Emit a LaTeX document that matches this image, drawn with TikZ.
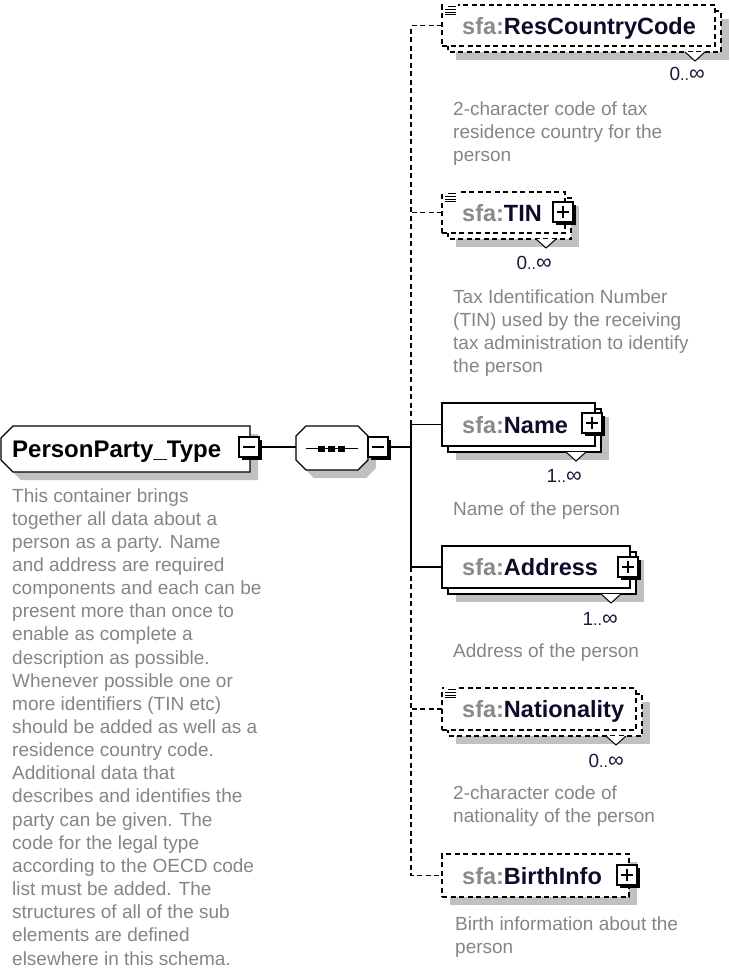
\documentclass[tikz,border=0pt]{standalone}
\usepackage{fontspec}
\setmainfont{Liberation Sans}
\definecolor{shadowc}{HTML}{C0C0C0}
\definecolor{descc}{HTML}{858585}
\definecolor{pfxc}{HTML}{8A8A8A}
\definecolor{namec}{HTML}{0C0C2A}
\definecolor{occc}{HTML}{1A1A3A}
\newcommand{\pfx}{\textcolor{pfxc}{sfa:}}
\newcommand{\dblock}[1]{\vtop{#1}}
\newcommand{\dl}[1]{\hbox{#1}}
\newcommand{\occt}[1]{#1{\fontsize{16}{20}\selectfont ..}{\fontsize{22}{23}\selectfont ∞}}
\newcommand{\pmbox}[4]{%
  \fill[black] (#2+3,#3+3) rectangle (#2+23,#3+23);
  \node[pmb, anchor=north west] (#1) at (#2,#3) {};
  \draw[line width=1.3pt] ([xshift=4pt]#1.west) -- ([xshift=-4pt]#1.east);
  \ifnum#4=1 \draw[line width=1.3pt] ([yshift=-4pt]#1.north) -- ([yshift=4pt]#1.south);\fi
}
\newcommand{\sicon}[2]{%
  \fill[white] (#1,#2-1) rectangle (#1+14,#2+12);
  \draw[line width=0.9pt] (#1+4,#2+1.5) -- (#1+12,#2+1.5);
  \foreach \k in {1,2,3} \draw[line width=0.9pt] (#1+1,#2+1.5+2.8*\k) -- (#1+12,#2+1.5+2.8*\k);
}
\newcommand{\vmark}[2]{%
  \filldraw[fill=white, draw=black, line width=1pt] (#1-10,#2) -- (#1,#2+9) -- (#1+10,#2);
}
\newcommand{\elemS}[6]{%
  \fill[shadowc] ({#2-#4/2+14},{#3-#5/2+14}) rectangle ({#2+#4/2+14},{#3+#5/2+14});
  \draw[#6, fill=white] ({#2-#4/2+6},{#3-#5/2+6}) rectangle ({#2+#4/2+6},{#3+#5/2+6});
  \node[boxn, #6, minimum width=#4, minimum height=#5] (#1) at (#2,#3) {};
}
\newcommand{\elemN}[6]{%
  \fill[shadowc] ({#2-#4/2+8},{#3-#5/2+8}) rectangle ({#2+#4/2+8},{#3+#5/2+8});
  \node[boxn, #6, minimum width=#4, minimum height=#5] (#1) at (#2,#3) {};
}
\begin{document}
\begin{tikzpicture}[x=1pt,y=-1pt,
  req/.style={draw=black, line width=1.3pt},
  opt/.style={draw=black, line width=1.3pt, dash pattern=on 5pt off 3.5pt},
  boxn/.style={rectangle, inner sep=0pt, outer sep=0pt, fill=white},
  ename/.style={inner sep=0pt, anchor=base west, font=\fontsize{23.5}{28}\selectfont\bfseries, text=namec},
  desc/.style={inner sep=0pt, anchor=base west, font=\fontsize{19}{23.15}\selectfont, text=descc},
  occ/.style={inner sep=0pt, anchor=base east, font=\fontsize{19}{23}\selectfont, text=occc},
  pmb/.style={draw=black, fill=white, line width=1.3pt, rectangle, inner sep=0pt, outer sep=0pt, minimum width=20pt, minimum height=20pt}
]
\useasboundingbox (0,0) rectangle (730,972);

% PersonParty_Type
\fill[shadowc] (21,434) -- (258,434) -- (258,480) -- (21,480) -- (9,468) -- (9,446) -- cycle;
\draw[fill=white, line width=1.3pt] (13,426) -- (250,426) -- (250,472) -- (13,472) -- (1,460) -- (1,438) -- cycle;
\node[boxn, fill=none, minimum width=249, minimum height=46] (ppt) at (125.5,449) {};
\node[ename, text=black, font=\fontsize{24}{28}\selectfont\bfseries] (pptT) at (12,457) {PersonParty\_Type};
\pmbox{pptm}{239}{437}{0}

% sequence
\fill[shadowc] (314,434) -- (366,434) -- (376,444) -- (376,468) -- (366,478) -- (314,478) -- (304,468) -- (304,444) -- cycle;
\draw[fill=white, line width=1.3pt] (306,426) -- (358,426) -- (368,436) -- (368,460) -- (358,470) -- (306,470) -- (296,460) -- (296,436) -- cycle;
\node[boxn, fill=none, minimum width=72, minimum height=44] (seq) at (332,448) {};
\draw[line width=1.3pt] (306,448.5) -- (358,448.5);
\foreach \cx in {321.5,331.5,341.5} \fill (\cx-3.5,446) rectangle (\cx+3.5,452);
\pmbox{seqm}{368}{437}{0}

\coordinate (bus) at (411,447);
\draw[req] (pptm.east) -- (pptm.east -| seq.west);
\draw[req] (seqm.east) -- (bus);

% ResCountryCode
\elemS{res}{578.5}{25.5}{273}{41}{opt}
\sicon{444}{5}
\vmark{695}{52}
\node[ename] (resT) at (462,34) {\pfx ResCountryCode};
\node[occ] (resO) at (705,80) {\occt{0}};
\node[desc] (resD) at (453,115.5) {\dblock{\dl{2-character code of tax}\dl{residence country for the}\dl{person}}};

% TIN
\elemS{tin}{503.5}{212.5}{123}{41}{opt}
\sicon{444}{192}
\vmark{546}{239}
\pmbox{tinp}{553}{202}{1}
\node[ename] (tinT) at (462,221) {\pfx TIN};
\node[occ] (tinO) at (552,269) {\occt{0}};
\node[desc] (tinD) at (453,303) {\dblock{\dl{Tax Identification Number}\dl{(TIN) used by the receiving}\dl{tax administration to identify}\dl{the person}}};

% Name
\elemS{name}{518.5}{424.5}{153}{43}{req}
\vmark{576}{452}
\pmbox{namep}{582}{413}{1}
\node[ename] (nameT) at (462,433) {\pfx Name};
\node[occ] (nameO) at (582,482) {\occt{1}};
\node[desc] (nameD) at (453,515) {Name of the person};

% Address
\elemS{addr}{536}{567}{188}{42}{req}
\vmark{611}{594}
\pmbox{addrp}{618}{557}{1}
\node[ename] (addrT) at (462,575) {\pfx Address};
\node[occ] (addrO) at (618,625) {\occt{1}};
\node[desc] (addrD) at (453,657) {Address of the person};

% Nationality
\elemS{nat}{539}{709}{194}{42}{opt}
\sicon{444}{688}
\vmark{616}{736}
\node[ename] (natT) at (462,717.5) {\pfx Nationality};
\node[occ] (natO) at (624,767) {\occt{0}};
\node[desc] (natD) at (453,799) {\dblock{\dl{2-character code of}\dl{nationality of the person}}};

% BirthInfo
\elemN{birth}{535.5}{875.5}{187}{43}{opt}
\pmbox{birthp}{617}{865}{1}
\node[ename] (birthT) at (462,884) {\pfx BirthInfo};
\node[desc] (birthD) at (455,930) {\dblock{\dl{Birth information about the}\dl{person}}};

% bus connectors
\draw[opt] (res.west) -| (bus |- name.west);
\draw[opt] (tin.west) -- (bus |- tin.west);
\draw[req] (name.west) -| (bus |- addr.west);
\draw[req] (addr.west) -- (bus |- addr.west);
\draw[opt] (bus |- addr.west) |- (birth.west);
\draw[opt] (nat.west) -- (bus |- nat.west);

% PersonParty description
\node[desc] (pptD) at (12,502) {\dblock{%
\dl{This container brings}
\dl{together all data about a}
\dl{person as a party. Name}
\dl{and address are required}
\dl{components and each can be}
\dl{present more than once to}
\dl{enable as complete a}
\dl{description as possible.}
\dl{Whenever possible one or}
\dl{more identifiers (TIN etc)}
\dl{should be added as well as a}
\dl{residence country code.}
\dl{Additional data that}
\dl{describes and identifies the}
\dl{party can be given. The}
\dl{code for the legal type}
\dl{according to the OECD code}
\dl{list must be added. The}
\dl{structures of all of the sub}
\dl{elements are defined}
\dl{elsewhere in this schema.}}};
\end{tikzpicture}
\end{document}
